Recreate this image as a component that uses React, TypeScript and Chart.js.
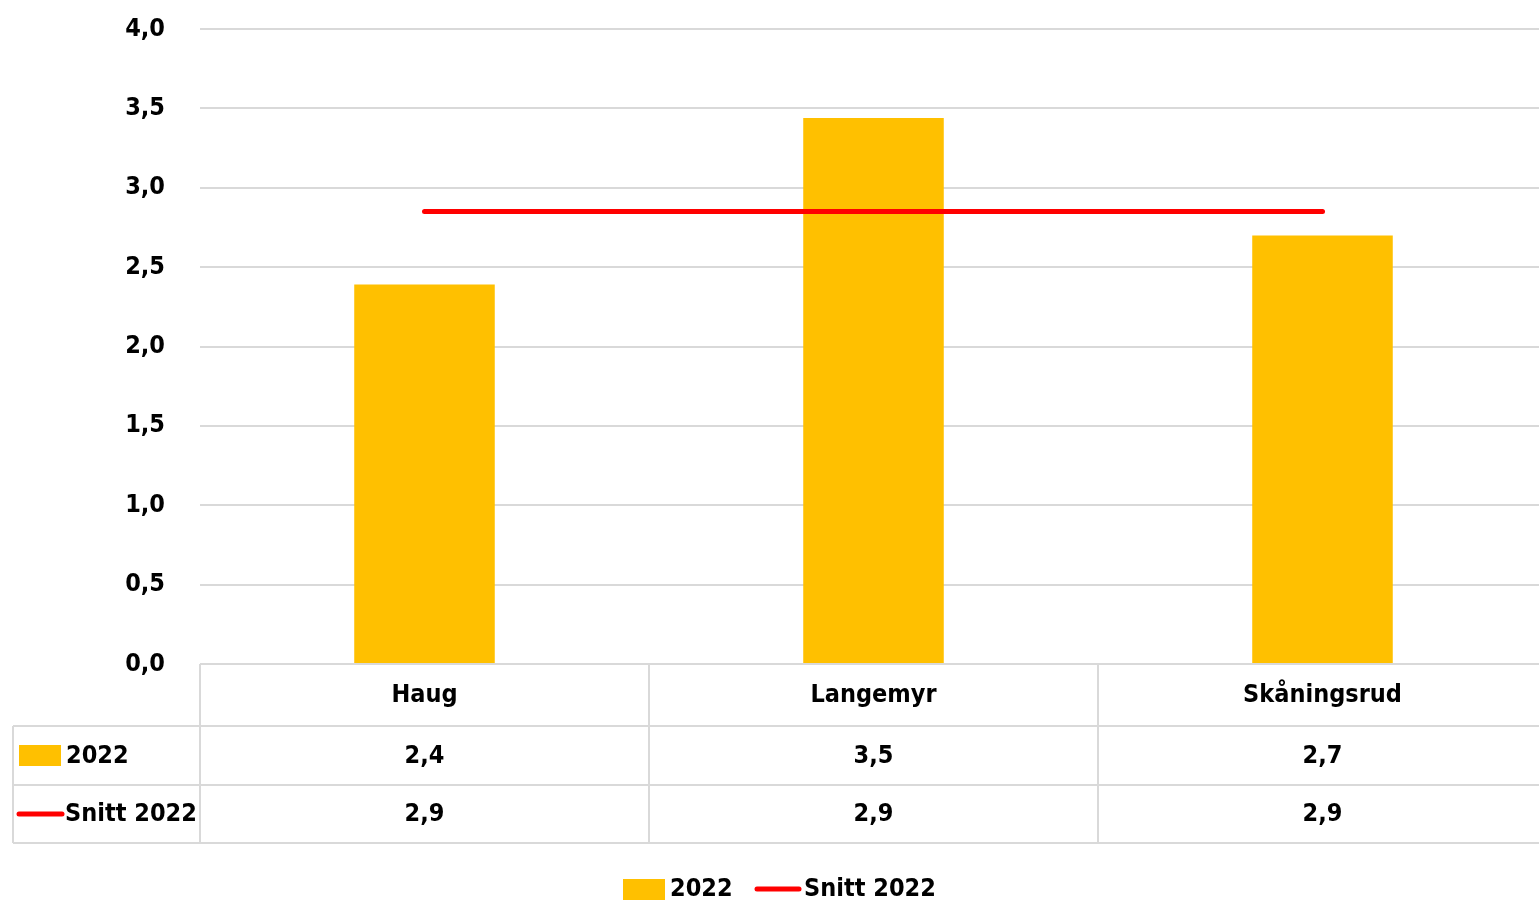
import React, { useEffect, useRef } from "react";
import { Chart, registerables } from "chart.js";

Chart.register(...registerables);

const categories = ["Haug", "Langemyr", "Skåningsrud"];
const series2022 = [2.39, 3.44, 2.7];
const snitt2022 = [2.85, 2.85, 2.85];
const table2022Labels = ["2,4", "3,5", "2,7"];
const tableSnittLabels = ["2,9", "2,9", "2,9"];
const seriesNames = ["2022", "Snitt 2022"];
const yTicks = [0, 0.5, 1, 1.5, 2, 2.5, 3, 3.5, 4];

const FONT_FAMILY = "'DejaVu Sans Condensed', 'DejaVu Sans', sans-serif";
const FONT_SIZE = 25;
const BAR_COLOR = "#FFC000";
const LINE_COLOR = "#FF0000";
const GRID_COLOR = "#D9D9D9";

const tablePlugin = {
  id: "dataTable",
  afterDraw(chart: any) {
    const ctx = chart.ctx as CanvasRenderingContext2D;
    const x = chart.scales.x;
    const area = chart.chartArea;
    const n = categories.length;
    const catW = x.getPixelForValue(1) - x.getPixelForValue(0);
    const top = area.bottom;
    const r1 = top + 62;
    const r2 = top + 121;
    const r3 = top + 179;
    const leftEdge = 13;
    ctx.save();
    ctx.strokeStyle = GRID_COLOR;
    ctx.lineWidth = 2;
    const hline = (y: number, x0: number, x1: number) => {
      ctx.beginPath();
      ctx.moveTo(x0, y);
      ctx.lineTo(x1, y);
      ctx.stroke();
    };
    const vline = (xx: number, y0: number, y1: number) => {
      ctx.beginPath();
      ctx.moveTo(xx, y0);
      ctx.lineTo(xx, y1);
      ctx.stroke();
    };
    hline(top, area.left, chart.width);
    hline(r1, leftEdge, chart.width);
    hline(r2, leftEdge, chart.width);
    hline(r3, leftEdge, chart.width);
    vline(leftEdge, r1, r3);
    for (let i = 0; i < n; i++) {
      vline(x.getPixelForValue(i) - catW / 2, top, r3);
    }
    vline(x.getPixelForValue(n - 1) + catW / 2, top, r3);

    ctx.fillStyle = "#000";
    ctx.font = `bold ${FONT_SIZE}px ${FONT_FAMILY}`;
    ctx.textBaseline = "middle";
    ctx.textAlign = "center";
    for (let i = 0; i < n; i++) {
      const cx = x.getPixelForValue(i);
      ctx.fillText(categories[i], cx, top + 31);
      ctx.fillText(table2022Labels[i], cx, r1 + 30);
      ctx.fillText(tableSnittLabels[i], cx, r2 + 29);
    }
    // row headers
    ctx.textAlign = "left";
    ctx.fillStyle = BAR_COLOR;
    ctx.fillRect(19, r1 + 19, 42, 21);
    ctx.fillStyle = "#000";
    ctx.fillText(seriesNames[0], 66, r1 + 30);
    ctx.strokeStyle = LINE_COLOR;
    ctx.lineWidth = 5;
    ctx.lineCap = "round";
    ctx.beginPath();
    ctx.moveTo(19, r2 + 29);
    ctx.lineTo(62, r2 + 29);
    ctx.stroke();
    ctx.fillText(seriesNames[1], 65, r2 + 29);

    // bottom legend
    const ly = 889;
    ctx.fillStyle = BAR_COLOR;
    ctx.fillRect(623, ly - 10, 42, 21);
    ctx.fillStyle = "#000";
    ctx.fillText(seriesNames[0], 670, ly);
    ctx.beginPath();
    ctx.moveTo(757, ly);
    ctx.lineTo(799, ly);
    ctx.stroke();
    ctx.fillText(seriesNames[1], 804, ly);
    ctx.restore();
  },
};

export default function App() {
  const ref = useRef<HTMLCanvasElement | null>(null);
  useEffect(() => {
    if (!ref.current) return;
    const chart = new Chart(ref.current, {
      type: "bar",
      data: {
        labels: categories,
        datasets: [
          {
            type: "line",
            label: seriesNames[1],
            data: snitt2022,
            borderColor: LINE_COLOR,
            backgroundColor: LINE_COLOR,
            borderWidth: 5,
            borderCapStyle: "round",
            pointRadius: 0,
            order: 0,
          } as any,
          {
            type: "bar",
            label: seriesNames[0],
            data: series2022,
            backgroundColor: BAR_COLOR,
            categoryPercentage: 1,
            barPercentage: 0.313,
            order: 1,
          },
        ],
      },
      options: {
        animation: false,
        responsive: true,
        maintainAspectRatio: false,
        layout: { padding: { top: 29, left: 0, right: 0, bottom: 0 } },
        plugins: { legend: { display: false }, tooltip: { enabled: false } },
        scales: {
          x: {
            offset: true,
            grid: { display: false },
            border: { display: false },
            ticks: { display: false },
            afterFit: (s: any) => {
              s.height = 240;
              s.paddingLeft = 0;
              s.paddingRight = 0;
            },
          },
          y: {
            min: 0,
            max: 4,
            afterBuildTicks: (s: any) => {
              s.ticks = yTicks.map((v) => ({ value: v }));
            },
            grid: { color: GRID_COLOR, lineWidth: 2, drawTicks: false },
            border: { display: false },
            ticks: {
              padding: 35,
              color: "#000",
              font: { family: FONT_FAMILY, size: FONT_SIZE, weight: "bold" },
              callback: (v: any) => Number(v).toFixed(1).replace(".", ","),
            },
            afterFit: (s: any) => {
              s.width = 200;
              s.paddingTop = 0;
              s.paddingBottom = 0;
            },
          },
        },
      },
      plugins: [tablePlugin],
    });
    return () => chart.destroy();
  }, []);
  return (
    <div style={{ position: "fixed", left: 0, top: 0, width: 1539, height: 904, overflow: "hidden", background: "#fff" }}>
      <div style={{ position: "absolute", left: 0, top: 0, width: 1547, height: 904 }}>
        <canvas ref={ref} />
      </div>
    </div>
  );
}
